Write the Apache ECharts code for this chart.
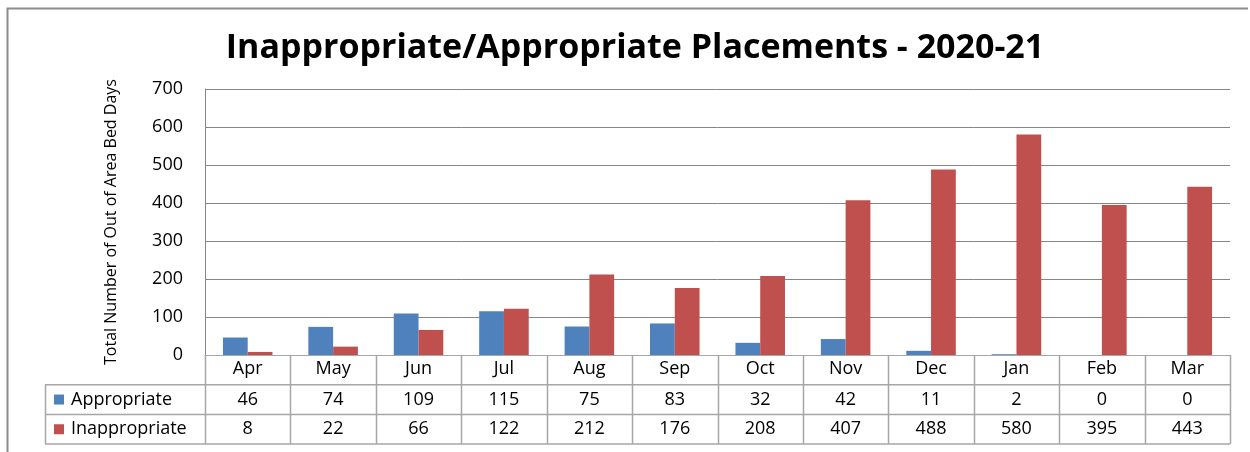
<!DOCTYPE html>
<html>
<head>
<meta charset="utf-8">
<title>Inappropriate/Appropriate Placements - 2020-21</title>
<script src="https://cdn.jsdelivr.net/npm/echarts@6/dist/echarts.min.js"></script>
<style>
  html, body { margin: 0; padding: 0; background: #fff; }
  #main { width: 1250px; height: 452px; }
</style>
</head>
<body>
<div id="main"></div>
<script>
var months = ['Apr', 'May', 'Jun', 'Jul', 'Aug', 'Sep', 'Oct', 'Nov', 'Dec', 'Jan', 'Feb', 'Mar']
var appropriate = [46, 74, 109, 115, 75, 83, 32, 42, 11, 2, 0, 0]
var inappropriate = [8, 22, 66, 122, 212, 176, 208, 407, 488, 580, 395, 443]
var seriesNames = ['Appropriate', 'Inappropriate']
var seriesColors = ['#4F81BD', '#C0504D']

var font = 'Open Sans'
var lineColor = '#A6A6A6'

var myChart = echarts.init(document.getElementById('main'))

var option = {
  animation: false,
  title: {
    text: 'Inappropriate/Appropriate Placements - 2020-21',
    left: 630,
    textAlign: 'center',
    top: 26,
    textStyle: { fontFamily: font, fontSize: 34, fontWeight: 'bold', color: '#000' }
  },
  grid: { left: 205, right: 20, top: 89, bottom: 97 },
  xAxis: {
    type: 'category',
    data: months,
    axisLine: { show: true, lineStyle: { color: lineColor } },
    axisTick: { show: false },
    axisLabel: { fontFamily: font, fontSize: 18, color: '#000', margin: 5 }
  },
  yAxis: {
    type: 'value',
    min: 0,
    max: 700,
    interval: 100,
    name: 'Total Number of Out of Area Bed Days',
    nameLocation: 'middle',
    nameGap: 86,
    nameRotate: 90,
    nameTextStyle: { fontFamily: font, fontSize: 16, color: '#000' },
    axisLine: { show: true, lineStyle: { color: '#868686' } },
    axisTick: { show: false },
    axisLabel: { fontFamily: font, fontSize: 18, color: '#000', margin: 22 },
    splitLine: { lineStyle: { color: '#868686' } }
  },
  series: [
    {
      name: seriesNames[0],
      type: 'bar',
      data: appropriate,
      itemStyle: { color: seriesColors[0] },
      barGap: '0%',
      barCategoryGap: '42%'
    },
    {
      name: seriesNames[1],
      type: 'bar',
      data: inappropriate,
      itemStyle: { color: seriesColors[1] }
    }
  ]
}

myChart.setOption(option)

// data table under the axis, placed from the category axis positions
function drawTable() {
  var centers = months.map(function (m, i) {
    return myChart.convertToPixel({ xAxisIndex: 0 }, i)
  })
  var step = centers[1] - centers[0]
  var left = centers[0] - step / 2
  var right = centers[centers.length - 1] + step / 2
  var y0 = myChart.convertToPixel({ yAxisIndex: 0 }, 0)
  var rowH = 29.7
  var y1 = y0 + rowH
  var y2 = y1 + rowH
  var y3 = y2 + rowH
  var tableLeft = 45
  var els = []
  function line(x1, ya, x2, yb) {
    els.push({
      type: 'line',
      shape: { x1: x1, y1: ya, x2: x2, y2: yb },
      style: { stroke: lineColor, lineWidth: 1.5 },
      silent: true
    })
  }
  for (var k = 0; k <= months.length; k++) {
    var x = Math.round(left + k * step) + 0.5
    line(x, y0, x, y3)
  }
  line(tableLeft, y1, right, y1)
  line(tableLeft, y2, right, y2)
  line(tableLeft, y3, right, y3)
  line(tableLeft + 0.5, y1, tableLeft + 0.5, y3)

  var rows = [appropriate, inappropriate]
  rows.forEach(function (vals, r) {
    var cy = y1 + rowH * r + rowH / 2
    els.push({
      type: 'rect',
      shape: { x: 54, y: cy - 5, width: 10, height: 10 },
      style: { fill: seriesColors[r] },
      silent: true
    })
    els.push({
      type: 'text',
      x: 71,
      y: cy,
      style: {
        text: seriesNames[r],
        font: '18px "' + font + '"',
        fill: '#000',
        verticalAlign: 'middle',
        align: 'left'
      },
      silent: true
    })
    vals.forEach(function (v, i) {
      els.push({
        type: 'text',
        x: centers[i],
        y: cy,
        style: {
          text: String(v),
          font: '18px "' + font + '"',
          fill: '#000',
          align: 'center',
          verticalAlign: 'middle'
        },
        silent: true
      })
    })
  })

  // outer chart border (left and top)
  els.push({
    type: 'polyline',
    shape: { points: [[7.5, 460], [7.5, 8.5], [1248, 8.5]] },
    style: { stroke: '#8C8C8C', lineWidth: 2, fill: null },
    silent: true
  })

  myChart.setOption({ graphic: { elements: els } })
}

drawTable()
</script>
</body>
</html>
